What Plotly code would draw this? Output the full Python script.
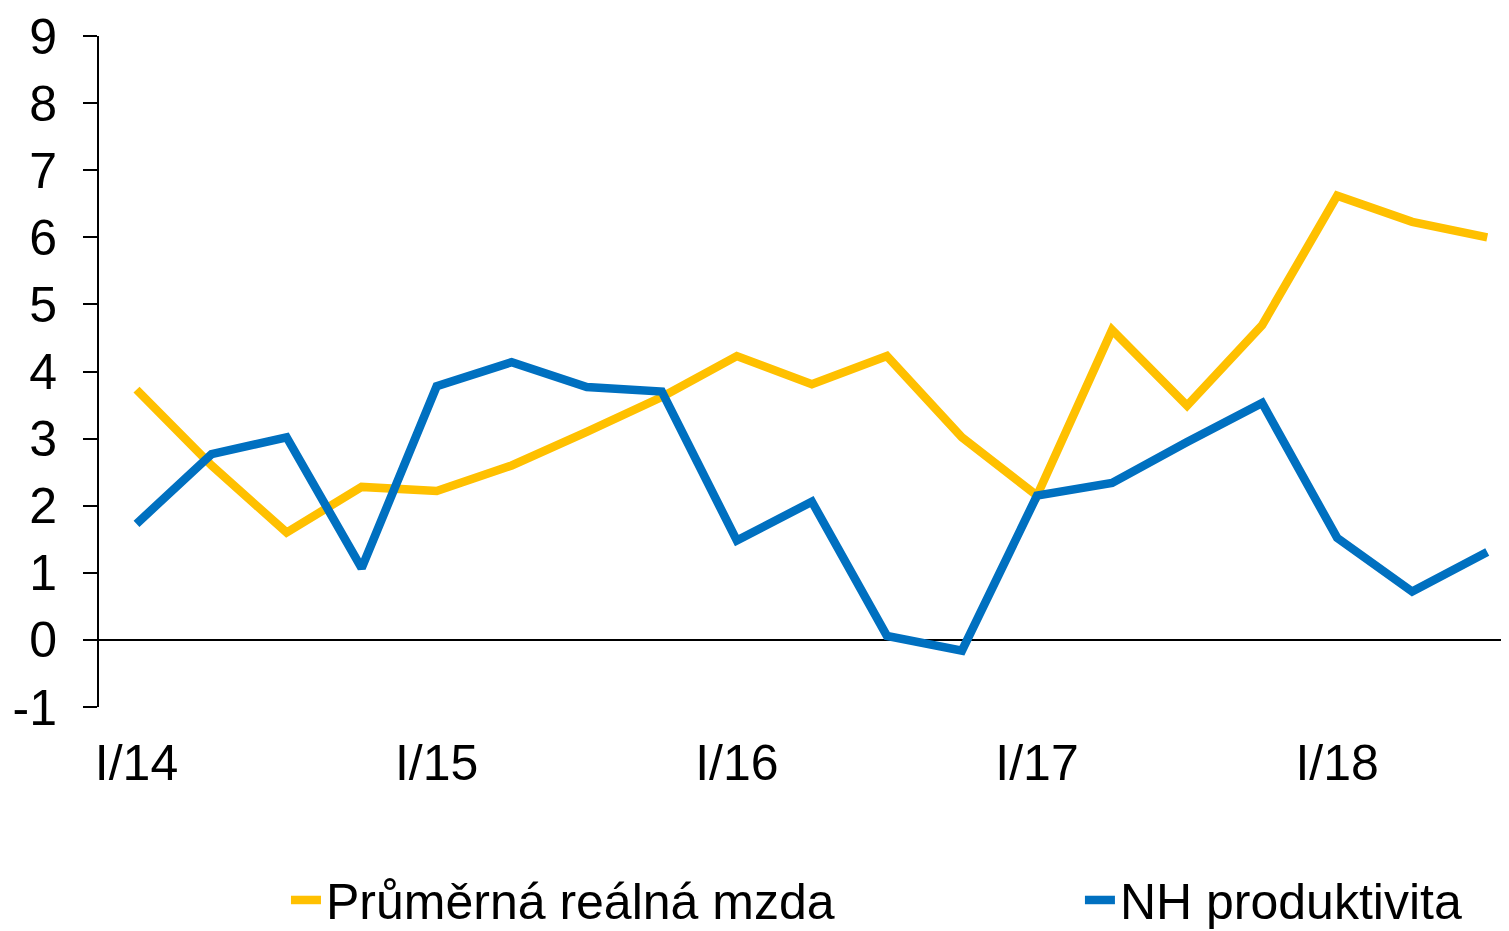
import plotly.graph_objects as go

quarters = ["I/14", "II/14", "III/14", "IV/14",
            "I/15", "II/15", "III/15", "IV/15",
            "I/16", "II/16", "III/16", "IV/16",
            "I/17", "II/17", "III/17", "IV/17",
            "I/18", "II/18", "III/18"]
wage = [3.73, 2.6, 1.6, 2.28, 2.22, 2.6, 3.1, 3.62, 4.23, 3.81, 4.23, 3.02,
        2.15, 4.62, 3.49, 4.69, 6.62, 6.23, 6.0]
productivity = [1.73, 2.77, 3.02, 1.07, 3.78, 4.14, 3.77, 3.7, 1.48, 2.06, 0.06, -0.16,
                2.15, 2.34, 2.95, 3.53, 1.52, 0.72, 1.31]
tick_labels = ["I/14", "I/15", "I/16", "I/17", "I/18"]
y_ticks = list(range(-1, 10))
y_ticktext = [str(v) for v in y_ticks]  # plain hyphen for -1

FONT = "Liberation Sans, Arial, sans-serif"

fig = go.Figure()
fig.add_trace(go.Scatter(x=quarters, y=wage, mode="lines", name="Průměrná reálná mzda",
                         line=dict(color="#FFC000", width=8.5), legend="legend"))
fig.add_trace(go.Scatter(x=quarters, y=productivity, mode="lines", name="NH produktivita",
                         line=dict(color="#0070C0", width=8.5), legend="legend2"))

legend_common = dict(orientation="h", yanchor="middle", y=-0.2876, xanchor="left",
                     font=dict(size=50), itemwidth=30, bgcolor="rgba(0,0,0,0)")

fig.update_layout(
    width=1501, height=923,
    margin=dict(l=91, r=0, t=28, b=224, autoexpand=False),
    paper_bgcolor="white", plot_bgcolor="white",
    font=dict(family=FONT, size=50, color="black"),
    showlegend=True,
    legend=dict(x=0.1326, **legend_common),
    legend2=dict(x=0.6957, **legend_common),
    xaxis=dict(type="category", categoryorder="array", categoryarray=quarters,
               range=[-0.5, 18.29], tickmode="array", tickvals=tick_labels, ticktext=tick_labels,
               showline=False, showgrid=False, zeroline=False, ticks="",
               automargin=False, ticklabelstandoff=22, tickfont=dict(size=50)),
    yaxis=dict(range=[-1, 9], tickmode="array", tickvals=y_ticks, ticktext=y_ticktext,
               showline=True, linecolor="black", linewidth=2,
               ticks="outside", ticklen=14, tickwidth=2, tickcolor="black",
               showgrid=False, zeroline=True, zerolinecolor="black", zerolinewidth=1.5,
               automargin=False, ticklabelstandoff=16, tickfont=dict(size=50)),
)

fig.write_html("out.html")
